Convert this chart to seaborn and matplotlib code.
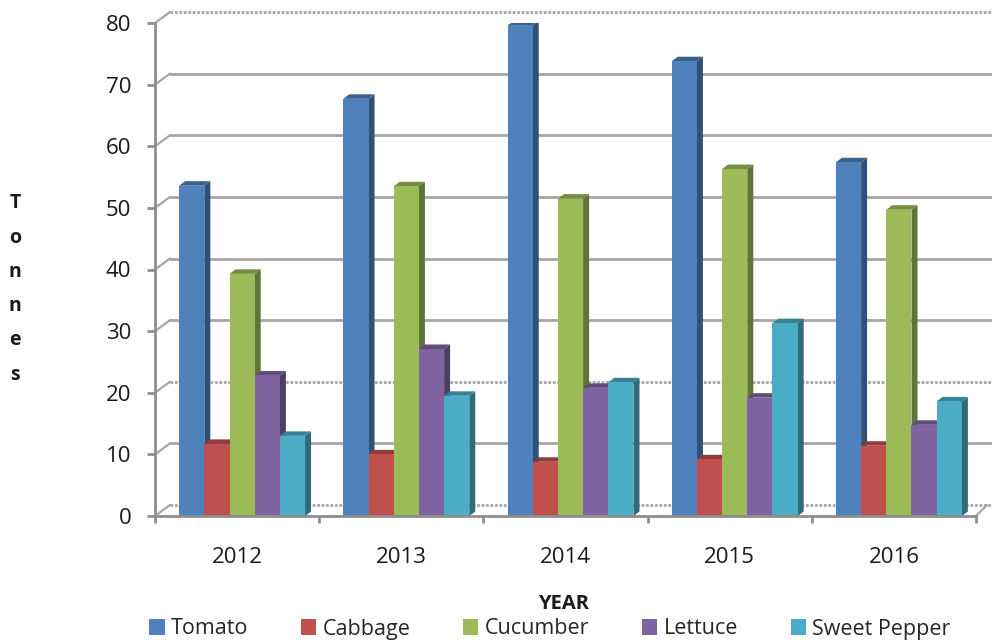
import pandas as pd
import seaborn as sns
import matplotlib.pyplot as plt
import matplotlib.colors as mcolors
from matplotlib.patches import Polygon

years = ["2012", "2013", "2014", "2015", "2016"]
crops = ["Tomato", "Cabbage", "Cucumber", "Lettuce", "Sweet Pepper"]
tomato = [53.6, 67.7, 79.6, 73.8, 57.4]
cabbage = [11.7, 10, 8.8, 9.2, 11.4]
cucumber = [39.3, 53.5, 51.5, 56.3, 49.7]
lettuce = [22.8, 27.1, 20.8, 19.2, 14.8]
sweet_pepper = [13, 19.5, 21.7, 31.3, 18.6]
colors = ["#4F81BD", "#C0504D", "#9BBB59", "#8064A2", "#4BACC6"]

df = pd.DataFrame({
    "Year": years * 5,
    "Crop": [c for c in crops for _ in years],
    "Tonnes": tomato + cabbage + cucumber + lettuce + sweet_pepper,
})

W, H = 992, 642
sns.set_style("white")
plt.rcParams["font.family"] = ["Open Sans", "DejaVu Sans"]
GRID = "#a6a6a6"
AXIS = "#8e8e8e"

fig = plt.figure(figsize=(W / 100, H / 100), dpi=100)
ax = fig.add_axes([155 / W, 1 - 516 / H, (976 - 155) / W, (516 - 23) / H])

sns.barplot(data=df, x="Year", y="Tonnes", hue="Crop", palette=colors, width=0.767,
            saturation=1, gap=0, ax=ax, errorbar=None, linewidth=0)
ax.set_xlim(-0.5, 4.5)
ax.set_ylim(0, 80)

# data units per pixel
px_x = 5 / (W * ax.get_position().width)
px_y = 80 / (H * ax.get_position().height)

# back wall gridlines with the little 3d connector at the left
for v in range(0, 90, 10):
    back = v + 11 * px_y
    ls = (0, (1, 0.6)) if v in (0, 20, 80) else "-"
    ax.plot([-0.5, -0.5 + 15 * px_x], [v, back], color=GRID, lw=1.6, clip_on=False, zorder=0.5)
    ax.plot([-0.5 + 15 * px_x, 4.5 + 16 * px_x], [back, back], color=GRID, lw=2, ls=ls, clip_on=False, zorder=0.5)
ax.plot([4.5, 4.5 + 11 * px_x], [0, 11 * px_y], color=GRID, lw=1.6, clip_on=False, zorder=0.5)

# fake 3d: side and top faces from the bars seaborn drew
dx = 6 * px_x
dy = 4.5 * px_y
shift = 5 * px_x
for bar, col in zip(ax.patches[:25], [c for c in colors for _ in years]):
    bar.set_x(bar.get_x() + shift)
    bar.set_zorder(1)
    x0, x1, h = bar.get_x(), bar.get_x() + bar.get_width(), bar.get_height()
    r, g, b = mcolors.to_rgb(col)
    side = Polygon([(x1, 0), (x1 + dx, dy), (x1 + dx, h + dy), (x1, h)],
                   color=(r * 0.62, g * 0.62, b * 0.62), lw=0, zorder=0.8)
    top = Polygon([(x0, h), (x0 + dx, h + dy), (x1 + dx, h + dy), (x1, h)],
                  color=(r * 0.75, g * 0.75, b * 0.75), lw=0, zorder=0.8)
    ax.add_patch(side)
    ax.add_patch(top)

sns.despine(ax=ax)
for s in ["left", "bottom"]:
    ax.spines[s].set_color(AXIS)
    ax.spines[s].set_linewidth(2)
    ax.spines[s].set_zorder(3)

ax.set_yticks(range(0, 90, 10))
ax.set_xticks([i - 0.5 for i in range(6)], minor=True)
ax.tick_params(axis="y", which="major", left=True, length=6, width=2, color=AXIS, pad=11, labelsize=16, labelcolor="#1a1a1a")
ax.tick_params(axis="x", which="major", bottom=False, pad=19, labelsize=16, labelcolor="#1a1a1a")
ax.tick_params(axis="x", which="minor", bottom=True, length=5, width=2, color=AXIS)
ax.set_xlabel("")
ax.set_ylabel("")

fig.text(564 / W, 1 - 604 / H, "YEAR", ha="center", va="center", fontsize=14.5, fontweight="bold", color="#1a1a1a")
fig.text(15 / W, 1 - 289 / H, "T\no\nn\nn\ne\ns", ha="center", va="center", fontsize=14, fontweight="bold",
         linespacing=1.95, color="#1a1a1a")

sns.move_legend(ax, "center", bbox_to_anchor=(550 / W, 1 - 629 / H), bbox_transform=fig.transFigure,
                ncol=5, title=None, frameon=False, fontsize=15.5, handlelength=0.7, handleheight=0.7,
                handletextpad=0.3, columnspacing=2.45, borderpad=0, borderaxespad=0)

fig.savefig("out.png", dpi=100)
